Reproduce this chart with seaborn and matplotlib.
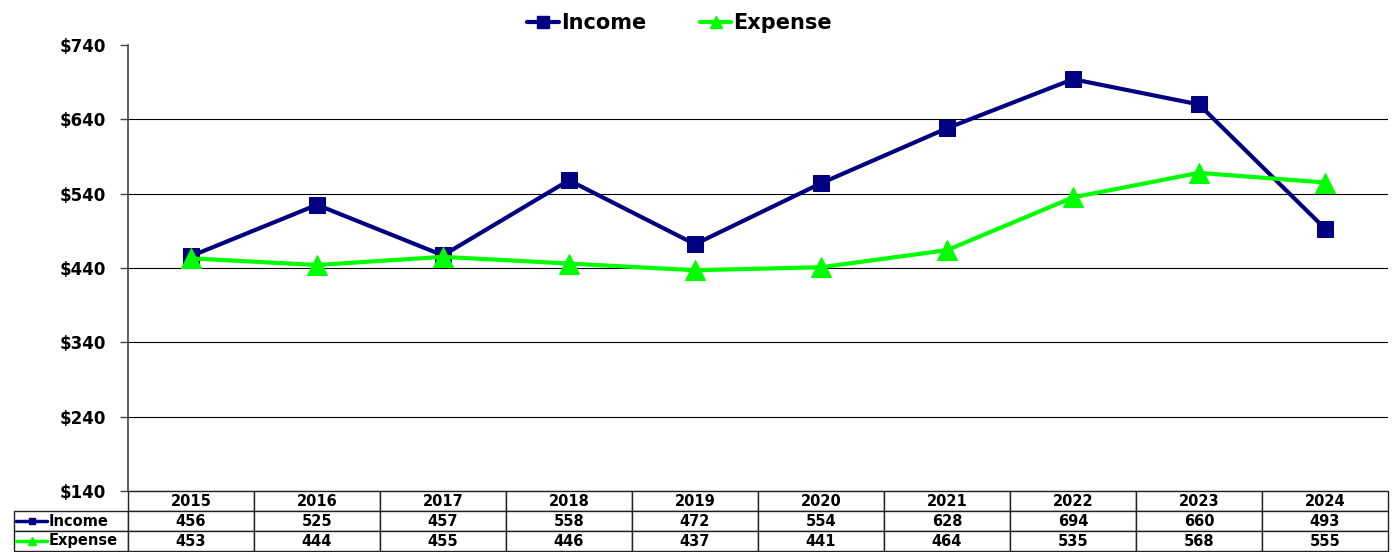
import matplotlib
matplotlib.use("Agg")
import matplotlib.pyplot as plt
from matplotlib.lines import Line2D
import seaborn as sns
import pandas as pd

years = ["2015", "2016", "2017", "2018", "2019", "2020", "2021", "2022", "2023", "2024"]
income = [456, 525, 457, 558, 472, 554, 628, 694, 660, 493]
expense = [453, 444, 455, 446, 437, 441, 464, 535, 568, 555]
y_ticks = [140, 240, 340, 440, 540, 640, 740]

NAVY = "#000080"
GREEN = "#00FF00"

sns.set_theme(style="white")
plt.rcParams['font.family'] = ['DejaVu Sans']
plt.rcParams['text.color'] = 'black'
plt.rcParams['ytick.color'] = 'black'

df = pd.DataFrame({"year": years, "Income": income, "Expense": expense})

fig = plt.figure(figsize=(13.96, 5.52), dpi=100)
ax = fig.add_axes([128 / 1396, 61 / 552, 1260 / 1396, 446 / 552])

sns.lineplot(data=df, x="year", y="Income", ax=ax, color=NAVY, lw=3,
             marker="s", markersize=12, markeredgecolor=NAVY, sort=False)
sns.lineplot(data=df, x="year", y="Expense", ax=ax, color=GREEN, lw=3,
             marker="^", markersize=14, markeredgecolor=GREEN, sort=False)

ax.set_xlim(-0.5, len(years) - 0.5)
ax.set_ylim(140, 740)
ax.set_yticks(y_ticks)
ax.set_yticklabels([f"${v}" for v in y_ticks], fontsize=12, fontweight="bold", color="black")
ax.set_xticks([])
ax.set_xlabel("")
ax.set_ylabel("")
ax.tick_params(axis="y", which="both", left=True, length=6, width=1, color="#444444", pad=10)
ax.yaxis.grid(True, color="black", lw=0.8)
ax.set_axisbelow(True)
ax.yaxis.get_gridlines()[-1].set_visible(False)
for s in ["top", "right", "bottom"]:
    ax.spines[s].set_visible(False)
ax.spines["left"].set_color("#444444")
ax.spines["left"].set_linewidth(1.2)

# legend on top
handles = [Line2D([], [], color=NAVY, lw=3, marker="s", markersize=8),
           Line2D([], [], color=GREEN, lw=3, marker="^", markersize=9)]
fig.legend(handles, ["Income", "Expense"], loc="upper center", bbox_to_anchor=(0.487, 1.01),
           ncol=2, frameon=False, handlelength=1.5, handletextpad=0.1, columnspacing=2.6,
           prop={"size": 15, "weight": "bold"}, labelcolor="black")

# data table under the plot
lab_w = 114 / 1260
h = 60 / 446
cell_text = [[""] + years,
             [""] + [str(v) for v in income],
             [""] + [str(v) for v in expense]]
tbl = ax.table(cellText=cell_text, cellLoc="center",
               colWidths=[114] + [126] * len(years),
               bbox=[-lab_w, -h, 1 + lab_w, h])
tbl.auto_set_font_size(False)
tbl.set_fontsize(10.5)
for (r, c), cell in tbl.get_celld().items():
    cell.set_linewidth(1)
    cell.set_edgecolor("#222222")
    cell.set_text_props(weight="bold", color="black")
tbl[0, 0].visible_edges = ""

# legend keys inside the table row labels
row_y = [-30 / 446, -50 / 446]
x0, x1 = (16 - 128) / 1260, (47 - 128) / 1260
for yy, col, mk, ms, name in [(row_y[0], NAVY, "s", 5, "Income"),
                              (row_y[1], GREEN, "^", 6, "Expense")]:
    ax.plot([x0, x1], [yy, yy], color=col, lw=2.5, transform=ax.transAxes, clip_on=False)
    ax.plot([(x0 + x1) / 2], [yy], marker=mk, color=col, markersize=ms,
            transform=ax.transAxes, clip_on=False)
    ax.text(x1 + 0.001, yy, name, transform=ax.transAxes, ha="left", va="center",
            fontsize=10.5, fontweight="bold", color="black")

fig.savefig("out.png", dpi=100)
